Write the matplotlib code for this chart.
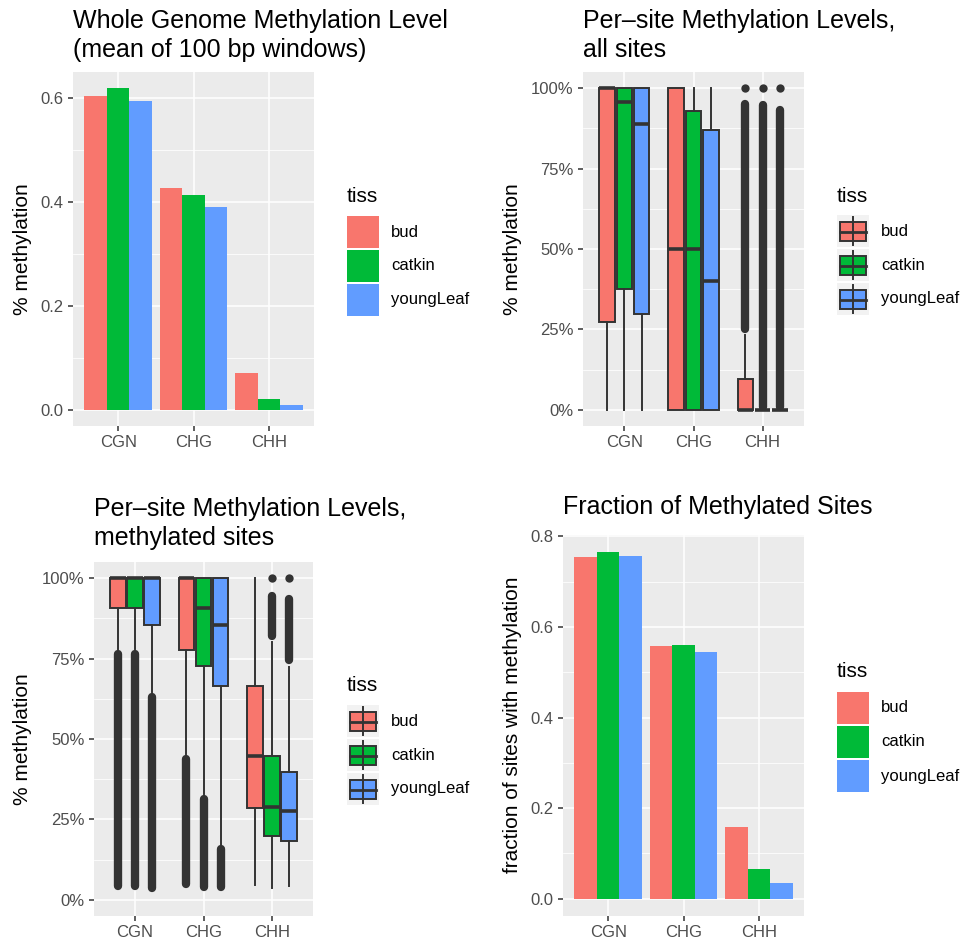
import matplotlib

matplotlib.use("Agg")
import matplotlib.pyplot as plt
from matplotlib.lines import Line2D
from matplotlib.patches import Rectangle

plt.rcParams["font.family"] = ["Liberation Sans", "DejaVu Sans"]

contexts = ["CGN", "CHG", "CHH"]
tissues = ["bud", "catkin", "youngLeaf"]
tissue_colors = ["#F8766D", "#00BA38", "#619CFF"]

# whole genome methylation (mean of 100 bp windows), per context
genome_bud = [0.604, 0.428, 0.071]
genome_catkin = [0.620, 0.414, 0.021]
genome_young = [0.596, 0.390, 0.010]

# fraction of sites with methylation, per context
frac_bud = [0.755, 0.558, 0.158]
frac_catkin = [0.765, 0.561, 0.065]
frac_young = [0.757, 0.544, 0.034]

# box stats per context: (whislo, q1, med, q3, whishi)
all_bud = [(0.0, 0.272, 1.0, 1.0, 1.0), (0.0, 0.0, 0.50, 1.0, 1.0), (0.0, 0.0, 0.0, 0.095, 0.232)]
all_catkin = [(0.0, 0.375, 0.958, 1.0, 1.0), (0.0, 0.0, 0.50, 0.930, 1.0), (0.0, 0.0, 0.0, 0.0, 0.0)]
all_young = [(0.0, 0.299, 0.888, 1.0, 1.0), (0.0, 0.0, 0.40, 0.871, 1.0), (0.0, 0.0, 0.0, 0.0, 0.0)]
# outliers: dense run (low, high) and lone points at the top
all_bud_out = [None, None, (0.25, 0.952)]
all_catkin_out = [None, None, (0.01, 0.947)]
all_young_out = [None, None, (0.01, 0.931)]
all_bud_top = [None, None, 1.0]
all_catkin_top = [None, None, 1.0]
all_young_top = [None, None, 1.0]

meth_bud = [(0.78, 0.907, 1.0, 1.0, 1.0), (0.452, 0.777, 1.0, 1.0, 1.0), (0.047, 0.286, 0.446, 0.666, 1.0)]
meth_catkin = [(0.78, 0.907, 1.0, 1.0, 1.0), (0.328, 0.726, 0.907, 1.0, 1.0), (0.038, 0.198, 0.29, 0.446, 0.80)]
meth_young = [(0.645, 0.855, 1.0, 1.0, 1.0), (0.17, 0.666, 0.855, 1.0, 1.0), (0.042, 0.182, 0.276, 0.399, 0.725)]
meth_bud_out = [(0.042, 0.764), (0.048, 0.438), None]
meth_catkin_out = [(0.042, 0.764), (0.04, 0.313), (0.82, 0.944)]
meth_young_out = [(0.038, 0.632), (0.04, 0.157), (0.745, 0.934)]
meth_bud_top = [None, None, None]
meth_catkin_top = [None, None, 1.0]
meth_young_top = [None, None, 1.0]

pct_ticks = [0, 0.25, 0.5, 0.75, 1.0]
pct_labels = ["0%", "25%", "50%", "75%", "100%"]

W, H = 964, 941
DARK = "#333333"
fig = plt.figure(figsize=(W / 100, H / 100), dpi=100)


def fx(x):
    return x / W


def fy(y):
    return 1 - y / H


def panel(left, top, right, bottom):
    return fig.add_axes([fx(left), fy(bottom), (right - left) / W, (bottom - top) / H])


def style(ax, ticks, labels, minor, ylim):
    ax.set_facecolor("#EBEBEB")
    for s in ax.spines.values():
        s.set_visible(False)
    ax.set_xlim(0.4, 3.6)
    ax.set_ylim(*ylim)
    ax.set_xticks([1, 2, 3], contexts)
    ax.set_yticks(ticks, labels)
    ax.set_yticks(minor, minor=True)
    ax.grid(True, which="major", color="white", lw=1.1)
    ax.grid(True, which="minor", axis="y", color="white", lw=0.55)
    ax.tick_params(which="major", length=3.6, width=1.1, color=DARK,
                   labelcolor="#4D4D4D", labelsize=12, pad=3)
    ax.tick_params(which="minor", length=0)
    ax.set_axisbelow(True)


def title(left, baselines, lines):
    for b, line in zip(baselines, lines):
        fig.text(fx(left), fy(b), line, fontsize=18, va="baseline", ha="left")


def ylabel(x, ycenter, text):
    fig.text(fx(x), fy(ycenter), text, fontsize=15, rotation=90, va="center", ha="center")


def bars(ax, series):
    for i, (vals, color) in enumerate(zip(series, tissue_colors)):
        xs = [c + 1 + (i - 1) * 0.3 for c in range(len(contexts))]
        ax.bar(xs, vals, width=0.3, color=color, zorder=2)


def boxes(ax, series, outs, tops):
    for i, (stats, out, top, color) in enumerate(zip(series, outs, tops, tissue_colors)):
        xs = [c + 1 + (i - 1) * 0.25 for c in range(len(contexts))]
        for x, rng, pt in zip(xs, out, top):
            if rng is not None:
                ax.plot([x, x], rng, color=DARK, lw=6, solid_capstyle="round", zorder=2)
            if pt is not None:
                ax.plot(x, pt, "o", ms=6, color=DARK, mec="none", zorder=2)
        st = [dict(whislo=s[0], q1=s[1], med=s[2], q3=s[3], whishi=s[4]) for s in stats]
        bp = ax.bxp(st, positions=xs, widths=0.225, patch_artist=True, showcaps=False,
                    showfliers=False, manage_ticks=False, zorder=3,
                    boxprops=dict(facecolor=color, edgecolor=DARK, lw=1.4),
                    whiskerprops=dict(color=DARK, lw=1.4),
                    medianprops=dict(color=DARK, lw=2.6, solid_capstyle="butt"))


def legend(x, top, title_base, kind):
    fig.text(fx(x), fy(title_base), "tiss", fontsize=15, va="baseline", ha="left")
    for i, (name, color) in enumerate(zip(tissues, tissue_colors)):
        y = top + i * 34
        if kind == "bar":
            fig.add_artist(Rectangle((fx(x), fy(y + 32)), 32 / W, 32 / H,
                                     transform=fig.transFigure, facecolor=color, edgecolor="none"))
        else:
            fig.add_artist(Rectangle((fx(x), fy(y + 32)), 32 / W, 32 / H,
                                     transform=fig.transFigure, facecolor="#F2F2F2", edgecolor="none"))
            fig.add_artist(Line2D([fx(x + 16)] * 2, [fy(y + 2), fy(y + 30)],
                                  transform=fig.transFigure, color=DARK, lw=1.4))
            fig.add_artist(Rectangle((fx(x + 3), fy(y + 26)), 26 / W, 19 / H,
                                     transform=fig.transFigure, facecolor=color,
                                     edgecolor=DARK, lw=1.4))
            fig.add_artist(Line2D([fx(x + 3), fx(x + 29)], [fy(y + 16.5)] * 2,
                                  transform=fig.transFigure, color=DARK, lw=2.0))
        fig.text(fx(x + 44), fy(y + 16), name, fontsize=12, va="center", ha="left")


# top left: whole genome
ax1 = panel(73, 72, 314, 426)
style(ax1, [0, 0.2, 0.4, 0.6], ["0.0", "0.2", "0.4", "0.6"], [0.1, 0.3, 0.5], (-0.031, 0.651))
bars(ax1, [genome_bud, genome_catkin, genome_young])
title(73, [28, 57], ["Whole Genome Methylation Level", "(mean of 100 bp windows)"])
ylabel(23, 249, "% methylation")
legend(347, 216, 202, "bar")

# top right: all sites
ax2 = panel(583, 72, 804, 426)
style(ax2, pct_ticks, pct_labels, [0.125, 0.375, 0.625, 0.875], (-0.05, 1.05))
boxes(ax2, [all_bud, all_catkin, all_young],
      [all_bud_out, all_catkin_out, all_young_out],
      [all_bud_top, all_catkin_top, all_young_top])
title(583, [28, 57], ["Per\u2013site Methylation Levels,", "all sites"])
ylabel(513, 249, "% methylation")
legend(837, 215, 202, "box")

# bottom left: methylated sites
ax3 = panel(94, 562, 313, 916)
style(ax3, pct_ticks, pct_labels, [0.125, 0.375, 0.625, 0.875], (-0.05, 1.05))
boxes(ax3, [meth_bud, meth_catkin, meth_young],
      [meth_bud_out, meth_catkin_out, meth_young_out],
      [meth_bud_top, meth_catkin_top, meth_young_top])
title(94, [516, 545], ["Per\u2013site Methylation Levels,", "methylated sites"])
ylabel(23, 739, "% methylation")
legend(347, 705, 691, "box")

# bottom right: fraction of methylated sites
ax4 = panel(563, 535, 804, 916)
style(ax4, [0, 0.2, 0.4, 0.6, 0.8], ["0.0", "0.2", "0.4", "0.6", "0.8"],
      [0.1, 0.3, 0.5, 0.7], (-0.038, 0.803))
bars(ax4, [frac_bud, frac_catkin, frac_young])
title(563, [514], ["Fraction of Methylated Sites"])
ylabel(513, 725, "fraction of sites with methylation")
legend(837, 692, 677, "bar")

fig.savefig("out.png", dpi=100, facecolor="white")
